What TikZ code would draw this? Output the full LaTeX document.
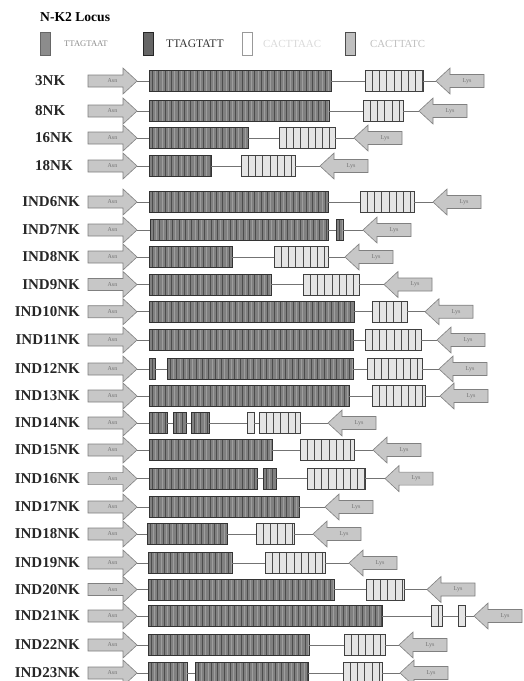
\documentclass[tikz,border=0pt]{standalone}
\usepackage{fontspec}
\setmainfont{Liberation Serif}
\begin{document}
\begin{tikzpicture}[x=1pt,y=-1pt,
  lbl/.style={font=\fontsize{15}{15}\selectfont\bfseries, text=black!85, inner sep=0},
  conn/.style={draw=black!55, line width=0.6pt},
  arrowsty/.style={fill=black!22, draw=black!50, line width=0.6pt, line join=miter},
  arrowtxt/.style={minimum width=49, minimum height=26, inner sep=0, outer sep=0,
    font=\fontsize{6}{6}\selectfont, text=black!55},
  darkblk/.style={draw=black!80, fill=black!50, line width=0.6pt, minimum height=21,
    inner sep=0, outer sep=0,
    path picture={\foreach \k in {3.2,9.6,...,400}{\draw[black!70, line width=0.5pt]
      ([xshift=\k pt]path picture bounding box.south west) --
      ([xshift=\k pt]path picture bounding box.north west);}
      \foreach \k in {6.4,12.8,...,400}{\draw[black!38, line width=0.4pt]
      ([xshift=\k pt]path picture bounding box.south west) --
      ([xshift=\k pt]path picture bounding box.north west);}}},
  whiteblk/.style={draw=black!75, fill=black!10, line width=0.6pt, minimum height=21,
    inner sep=0, outer sep=0,
    path picture={\foreach \k in {7.2,14.4,...,200}{\draw[black!70, line width=0.5pt]
      ([xshift=\k pt]path picture bounding box.south west) --
      ([xshift=\k pt]path picture bounding box.north west);}}},
  legbox/.style={minimum width=10, minimum height=23, inner sep=0, line width=0.7pt}
]
\useasboundingbox (0,0) rectangle (524,681);
\newcommand\asn[3]{\draw[arrowsty] (#2,#3) ++(0,-6) -- ++(35,0) -- ++(0,-7) -- ++(14,13) -- ++(-14,13) -- ++(0,-7) -- ++(-35,0) -- cycle;
  \node[arrowtxt, anchor=west] (#1) at (#2,#3) {Asn\hspace{14pt}};}
\newcommand\lys[3]{\draw[arrowsty] (#2,#3) -- ++(14,-13) -- ++(0,6.5) -- ++(34,0) -- ++(0,13) -- ++(-34,0) -- ++(0,6.5) -- cycle;
  \node[arrowtxt, minimum width=48, anchor=west] (#1) at (#2,#3) {\hspace{14pt}Lys};}
\newcommand\dk[4]{\node[darkblk, minimum width={#3-#2}, anchor=west] (#1) at (#2,#4) {};}
\newcommand\wt[4]{\node[whiteblk, minimum width={#3-#2}, anchor=west] (#1) at (#2,#4) {};}

% title and legend
\node[anchor=west, inner sep=0, font=\fontsize{13.6}{14}\selectfont\bfseries] (title) at (40,17) {N-K2 Locus};
\node[legbox, draw=black!60, fill=black!45] (k1) at (45.5,43.5) {};
\node[anchor=west, inner sep=0, text=black!45, font=\fontsize{8.6}{9}\selectfont] (t1) at (64,44) {TTAGTAAT};
\node[legbox, draw=black!85, fill=black!60] (k2) at (148,43.5) {};
\node[anchor=west, inner sep=0, text=black!80, font=\fontsize{11.6}{12}\selectfont] (t2) at (166,44) {TTAGTATT};
\node[legbox, draw=black!40, fill=white] (k3) at (247,43.5) {};
\node[anchor=west, inner sep=0, text=black!15, font=\fontsize{10.9}{11}\selectfont] (t3) at (263,44) {CACTTAAC};
\node[legbox, draw=black!70, fill=black!25] (k4) at (350.5,43.5) {};
\node[anchor=west, inner sep=0, text=black!25, font=\fontsize{10.8}{11}\selectfont] (t4) at (370,44) {CACTTATC};

% 3NK
\node[lbl, anchor=west] (l1) at (35,81) {3NK};
\asn{a1}{88}{81} \dk{d1}{149}{331}{81} \wt{w1}{365}{423}{81} \lys{y1}{436}{81}
\draw[conn] (a1.east) -- (d1.west) (d1.east) -- (w1.west) (w1.east) -- (y1.west);
% 8NK
\node[lbl, anchor=west] (l2) at (35,111) {8NK};
\asn{a2}{88}{111} \dk{d2}{149}{329}{111} \wt{w2}{363}{403}{111} \lys{y2}{419}{111}
\draw[conn] (a2.east) -- (d2.west) (d2.east) -- (w2.west) (w2.east) -- (y2.west);
% 16NK
\node[lbl, anchor=west] (l3) at (35,138) {16NK};
\asn{a3}{88}{138} \dk{d3}{149}{248}{138} \wt{w3}{279}{335}{138} \lys{y3}{354}{138}
\draw[conn] (a3.east) -- (d3.west) (d3.east) -- (w3.west) (w3.east) -- (y3.west);
% 18NK
\node[lbl, anchor=west] (l4) at (35,166) {18NK};
\asn{a4}{88}{166} \dk{d4}{149}{211}{166} \wt{w4}{241}{295}{166} \lys{y4}{320}{166}
\draw[conn] (a4.east) -- (d4.west) (d4.east) -- (w4.west) (w4.east) -- (y4.west);
% IND6NK
\node[lbl, anchor=east] (l5) at (80,202) {IND6NK};
\asn{a5}{88}{202} \dk{d5}{149}{328}{202} \wt{w5}{360}{414}{202} \lys{y5}{433}{202}
\draw[conn] (a5.east) -- (d5.west) (d5.east) -- (w5.west) (w5.east) -- (y5.west);
% IND7NK
\node[lbl, anchor=east] (l6) at (80,230) {IND7NK};
\asn{a6}{88}{230} \dk{d6}{150}{328}{230} \dk{e6}{336}{343}{230} \lys{y6}{363}{230}
\draw[conn] (a6.east) -- (d6.west) (d6.east) -- (e6.west) (e6.east) -- (y6.west);
% IND8NK
\node[lbl, anchor=east] (l7) at (80,257) {IND8NK};
\asn{a7}{88}{257} \dk{d7}{149}{232}{257} \wt{w7}{274}{328}{257} \lys{y7}{345}{257}
\draw[conn] (a7.east) -- (d7.west) (d7.east) -- (w7.west) (w7.east) -- (y7.west);
% IND9NK
\node[lbl, anchor=east] (l8) at (80,284.5) {IND9NK};
\asn{a8}{88}{284.5} \dk{d8}{149}{271}{284.5} \wt{w8}{303}{359}{284.5} \lys{y8}{384}{284.5}
\draw[conn] (a8.east) -- (d8.west) (d8.east) -- (w8.west) (w8.east) -- (y8.west);
% IND10NK
\node[lbl, anchor=east] (l9) at (80,311.7) {IND10NK};
\asn{a9}{88}{311.7} \dk{d9}{149}{354}{311.7} \wt{w9}{372}{407}{311.7} \lys{y9}{425}{311.7}
\draw[conn] (a9.east) -- (d9.west) (d9.east) -- (w9.west) (w9.east) -- (y9.west);
% IND11NK
\node[lbl, anchor=east] (l10) at (80,340) {IND11NK};
\asn{a10}{88}{340} \dk{d10}{149}{353}{340} \wt{w10}{365}{421}{340} \lys{y10}{437}{340}
\draw[conn] (a10.east) -- (d10.west) (d10.east) -- (w10.west) (w10.east) -- (y10.west);
% IND12NK
\node[lbl, anchor=east] (l11) at (80,369) {IND12NK};
\asn{a11}{88}{369} \dk{c11}{149}{155}{369} \dk{d11}{167}{353}{369} \wt{w11}{367}{422}{369} \lys{y11}{439}{369}
\draw[conn] (a11.east) -- (c11.west) (c11.east) -- (d11.west) (d11.east) -- (w11.west) (w11.east) -- (y11.west);
% IND13NK
\node[lbl, anchor=east] (l12) at (80,396) {IND13NK};
\asn{a12}{88}{396} \dk{d12}{149}{349}{396} \wt{w12}{372}{425}{396} \lys{y12}{440}{396}
\draw[conn] (a12.east) -- (d12.west) (d12.east) -- (w12.west) (w12.east) -- (y12.west);
% IND14NK
\node[lbl, anchor=east] (l13) at (80,423) {IND14NK};
\asn{a13}{88}{423} \dk{b13}{149}{167}{423} \dk{c13}{173}{186}{423} \dk{d13}{191}{209}{423}
\wt{v13}{247}{254}{423} \wt{w13}{259}{300}{423} \lys{y13}{328}{423}
\draw[conn] (a13.east) -- (b13.west) (b13.east) -- (c13.west) (c13.east) -- (d13.west) (d13.east) -- (v13.west) (v13.east) -- (w13.west) (w13.east) -- (y13.west);
% IND15NK
\node[lbl, anchor=east] (l14) at (80,450) {IND15NK};
\asn{a14}{88}{450} \dk{d14}{149}{272}{450} \wt{w14}{300}{354}{450} \lys{y14}{373}{450}
\draw[conn] (a14.east) -- (d14.west) (d14.east) -- (w14.west) (w14.east) -- (y14.west);
% IND16NK
\node[lbl, anchor=east] (l15) at (80,478.6) {IND16NK};
\asn{a15}{88}{478.6} \dk{d15}{149}{257}{478.6} \dk{e15}{263}{276}{478.6} \wt{w15}{307}{365}{478.6} \lys{y15}{385}{478.6}
\draw[conn] (a15.east) -- (d15.west) (d15.east) -- (e15.west) (e15.east) -- (w15.west) (w15.east) -- (y15.west);
% IND17NK
\node[lbl, anchor=east] (l16) at (80,507) {IND17NK};
\asn{a16}{88}{507} \dk{d16}{149}{299}{507} \lys{y16}{325}{507}
\draw[conn] (a16.east) -- (d16.west) (d16.east) -- (y16.west);
% IND18NK
\node[lbl, anchor=east] (l17) at (80,534) {IND18NK};
\asn{a17}{88}{534} \dk{d17}{147}{227}{534} \wt{w17}{256}{294}{534} \lys{y17}{313}{534}
\draw[conn] (a17.east) -- (d17.west) (d17.east) -- (w17.west) (w17.east) -- (y17.west);
% IND19NK
\node[lbl, anchor=east] (l18) at (80,563) {IND19NK};
\asn{a18}{88}{563} \dk{d18}{148}{232}{563} \wt{w18}{265}{325}{563} \lys{y18}{349}{563}
\draw[conn] (a18.east) -- (d18.west) (d18.east) -- (w18.west) (w18.east) -- (y18.west);
% IND20NK
\node[lbl, anchor=east] (l19) at (80,589.5) {IND20NK};
\asn{a19}{88}{589.5} \dk{d19}{148}{334}{589.5} \wt{w19}{366}{404}{589.5} \lys{y19}{427}{589.5}
\draw[conn] (a19.east) -- (d19.west) (d19.east) -- (w19.west) (w19.east) -- (y19.west);
% IND21NK
\node[lbl, anchor=east] (l20) at (80,616) {IND21NK};
\asn{a20}{88}{616} \dk{d20}{148}{382}{616} \wt{v20}{431}{442}{616} \wt{w20}{458}{465}{616} \lys{y20}{474}{616}
\draw[conn] (a20.east) -- (d20.west) (d20.east) -- (v20.west) (v20.east) -- (w20.west) (w20.east) -- (y20.west);
% IND22NK
\node[lbl, anchor=east] (l21) at (80,645) {IND22NK};
\asn{a21}{88}{645} \dk{d21}{148}{309}{645} \wt{w21}{344}{385}{645} \lys{y21}{399}{645}
\draw[conn] (a21.east) -- (d21.west) (d21.east) -- (w21.west) (w21.east) -- (y21.west);
% IND23NK
\node[lbl, anchor=east] (l22) at (80,673) {IND23NK};
\asn{a22}{88}{673} \dk{c22}{148}{187}{673} \dk{d22}{195}{308}{673} \wt{w22}{343}{382}{673} \lys{y22}{400}{673}
\draw[conn] (a22.east) -- (c22.west) (c22.east) -- (d22.west) (d22.east) -- (w22.west) (w22.east) -- (y22.west);
\end{tikzpicture}
\end{document}
